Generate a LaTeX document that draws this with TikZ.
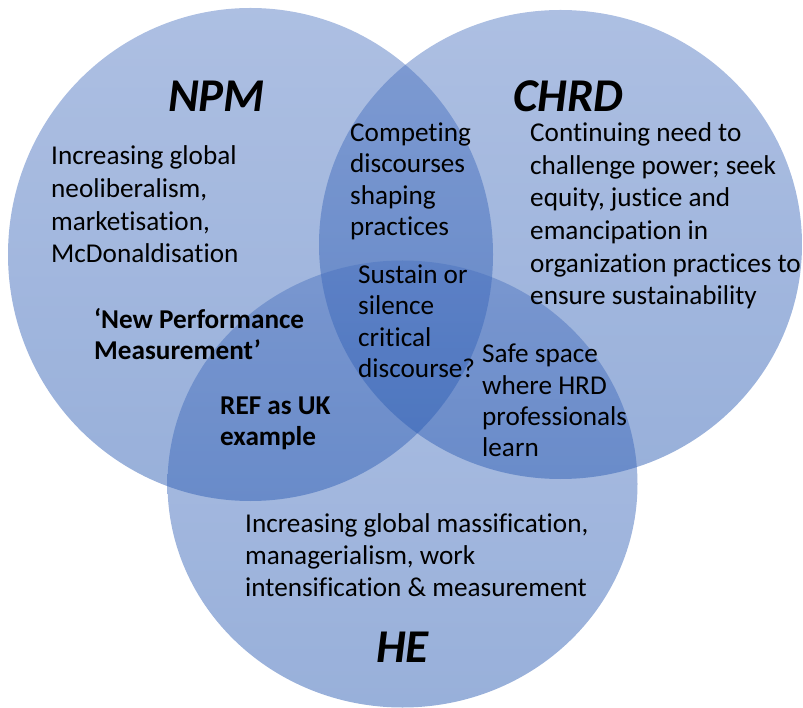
\documentclass[tikz,border=0pt]{standalone}
\usepackage{fontspec}
\setmainfont{Carlito}[Ligatures=NoCommon]
\definecolor{ctop}{RGB}{73,113,191}
\definecolor{cbot}{RGB}{26,79,173}
\tikzset{
  venn/.style={top color=ctop, bottom color=cbot, fill opacity=0.45},
  body/.style={anchor=base west, inner sep=0pt, align=left, text=black,
    font=\fontsize{27.2}{32.5}\selectfont},
  boldbody/.style={body, font=\fontsize{27.2}{31.5}\selectfont\bfseries},
  title/.style={anchor=base, inner sep=0pt, text=black,
    font=\fontsize{47}{50}\selectfont\bfseries\itshape}
}
\begin{document}
\begin{tikzpicture}[x=1pt,y=-1pt]
\useasboundingbox (0,0) rectangle (803,708);
% circles
\shade[venn] (250.5,254.5) ellipse [x radius=242.5pt, y radius=246.5pt];
\shade[venn] (560.5,244.5) ellipse [x radius=241.5pt, y radius=234.5pt];
\shade[venn] (402.5,484) ellipse [x radius=235pt, y radius=223.5pt];
% titles
\node[title] (npm) at (216.5,112) {NPM};
\node[title] (chrd) at (568.5,112) {CHRD};
\node[title] (he) at (402.5,662) {HE};
% texts (anchored at the baseline of the last line)
\node[body, font=\fontsize{27.2}{32.7}\selectfont] (npmtext) at (51,263) {Increasing global\\neoliberalism,\\marketisation,\\McDonaldisation};
\node[body, font=\fontsize{27.2}{31.3}\selectfont] (compete) at (350,235.4) {Competing\\discourses\\shaping\\practices};
\node[body, font=\fontsize{27.2}{32.7}\selectfont] (chrdtext) at (530,305) {Continuing need to\\challenge power; seek\\equity, justice and\\emancipation in\\organization practices to\\ensure sustainability};
\node[body, font=\fontsize{27.2}{31.3}\selectfont] (sustain) at (358,377.6) {Sustain or\\silence\\critical\\discourse?};
\node[boldbody] (newperf) at (94,359.5) {‘New Performance\\Measurement’};
\node[boldbody, font=\fontsize{27.2}{31}\selectfont\bfseries] (ref) at (220,445.7) {REF as UK\\example};
\node[body, font=\fontsize{27.2}{31.3}\selectfont] (safe) at (482,456.7) {Safe space\\where HRD\\professionals\\learn};
\node[body, font=\fontsize{27.2}{32.2}\selectfont] (hetext) at (245,596.7) {Increasing global massification,\\managerialism, work\\intensification \& measurement};
\end{tikzpicture}
\end{document}
